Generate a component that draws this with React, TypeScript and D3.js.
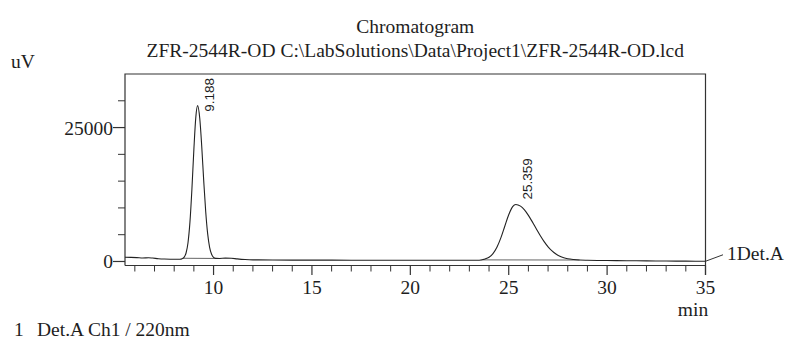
import * as d3 from "d3"
import React, { useRef, useEffect } from 'react';

// chromatogram trace (min, uV)
const times = [5.5, 5.8, 6.1, 6.4, 6.7, 6.9, 7.2, 7.5, 7.8, 8.1, 8.3, 8.4, 8.5, 8.6, 8.7, 8.8, 8.9, 9.0, 9.1, 9.188, 9.3, 9.4, 9.5, 9.6, 9.7, 9.8, 9.9, 10.0, 10.1, 10.3, 10.6, 10.9, 11.2, 11.6, 12, 13, 14, 15, 16, 17, 18, 19, 20, 21, 22, 23, 23.5, 23.8, 24.0, 24.2, 24.4, 24.6, 24.8, 25.0, 25.2, 25.359, 25.6, 25.8, 26.0, 26.2, 26.4, 26.6, 26.8, 27.0, 27.2, 27.4, 27.6, 27.8, 28.0, 28.3, 28.6, 29, 30, 31, 32, 33, 34, 35];
const signal = [780, 760, 720, 650, 700, 640, 520, 450, 420, 410, 430, 530, 780, 1540, 3460, 7340, 13500, 20900, 27000, 29100, 26700, 21470, 15100, 9380, 5190, 2640, 1340, 760, 580, 560, 620, 600, 480, 360, 300, 280, 260, 250, 250, 240, 240, 230, 230, 220, 220, 220, 240, 470, 800, 1470, 2650, 4400, 6570, 8720, 10240, 10650, 10330, 9630, 8610, 7390, 6100, 4840, 3700, 2740, 1970, 1390, 970, 690, 510, 360, 270, 220, 170, 140, 110, 90, 60, 40];

// peaks and their integration baselines
const peakTimes = [9.188, 25.359];
const peakNames = ["9.188", "25.359"];
const baseStart = [[8.45, 600], [23.7, 300]];
const baseEnd = [[10.35, 560], [28.6, 270]];

const xMajor = [10, 15, 20, 25, 30, 35];
const xMinor = d3.range(6, 35).filter(v => v % 5 !== 0);
const yMajor = [0, 25000];
const yMinor = [5000, 10000, 15000, 20000, 30000];

const title = "Chromatogram";
const subtitle = "ZFR-2544R-OD C:\\LabSolutions\\Data\\Project1\\ZFR-2544R-OD.lcd";

const Chromatogram: React.FC = () => {
    const svgRef = useRef<SVGSVGElement | null>(null);

    useEffect(() => {
        const width = 786;
        const height = 340;
        const l = 125, r = 705.5, t = 74, b = 265.5;
        const serif = "'Liberation Serif', 'Times New Roman', serif";
        const ink = "#1e1e1e";

        const svg = d3.select(svgRef.current)
            .attr('width', width)
            .attr('height', height);
        svg.selectAll("*").remove();

        svg.append('rect')
            .attr('width', width)
            .attr('height', height)
            .attr('fill', '#FFFFFF');

        const x = d3.scaleLinear().domain([5.5, 35]).range([l, r]);
        const y = d3.scaleLinear().domain([-750, 35000]).range([b, t]);

        // titles
        svg.append("text").attr("x", (l + r) / 2).attr("y", 33)
            .attr("text-anchor", "middle").attr("font-family", serif).attr("font-size", 19.5)
            .attr("fill", ink).text(title);
        svg.append("text").attr("x", (l + r) / 2).attr("y", 57)
            .attr("text-anchor", "middle").attr("font-family", serif).attr("font-size", 19.5)
            .attr("fill", ink).text(subtitle);
        svg.append("text").attr("x", 11).attr("y", 68)
            .attr("font-family", serif).attr("font-size", 19.5).attr("fill", ink).text("uV");

        // frame
        const axisColor = "#333";
        svg.append("path")
            .attr("d", `M${l},${b}V${t}H${r}V${b + 9.5}M${l},${b}H${r}`)
            .attr("fill", "none").attr("stroke", axisColor).attr("stroke-width", 1.2);

        // x ticks
        svg.selectAll("line.xminor").data(xMinor).enter().append("line")
            .attr("x1", d => x(d)).attr("x2", d => x(d))
            .attr("y1", b).attr("y2", b + 6)
            .attr("stroke", axisColor).attr("stroke-width", 1);
        svg.selectAll("line.xmajor").data(xMajor).enter().append("line")
            .attr("x1", d => x(d)).attr("x2", d => x(d))
            .attr("y1", b).attr("y2", b + 9.5)
            .attr("stroke", axisColor).attr("stroke-width", 1.2);
        svg.selectAll("text.xlab").data(xMajor).enter().append("text")
            .attr("x", d => x(d)).attr("y", 294)
            .attr("text-anchor", "middle").attr("font-family", serif).attr("font-size", 19.5)
            .attr("fill", ink).text(d => d);

        // y ticks
        svg.selectAll("line.yminor").data(yMinor).enter().append("line")
            .attr("x1", l - 7).attr("x2", l)
            .attr("y1", d => y(d)).attr("y2", d => y(d))
            .attr("stroke", axisColor).attr("stroke-width", 1);
        svg.selectAll("line.ymajor").data(yMajor).enter().append("line")
            .attr("x1", l - 12).attr("x2", l)
            .attr("y1", d => y(d)).attr("y2", d => y(d))
            .attr("stroke", axisColor).attr("stroke-width", 1.2);
        svg.selectAll("text.ylab").data(yMajor).enter().append("text")
            .attr("x", l - 12).attr("y", d => y(d) + 7)
            .attr("text-anchor", "end").attr("font-family", serif).attr("font-size", 19.5)
            .attr("fill", ink).text(d => d);

        svg.append("text").attr("x", 693).attr("y", 316)
            .attr("text-anchor", "middle").attr("font-family", serif).attr("font-size", 19.5)
            .attr("fill", ink).text("min");

        // integration baselines
        svg.selectAll("line.base").data(baseStart).enter().append("line")
            .attr("x1", d => x(d[0])).attr("y1", d => y(d[1]))
            .attr("x2", (_, i) => x(baseEnd[i][0])).attr("y2", (_, i) => y(baseEnd[i][1]))
            .attr("stroke", "#555").attr("stroke-width", 0.9);

        // trace
        const pts: [number, number][] = times.map((tm, i) => [tm, signal[i]]);
        const line = d3.line<[number, number]>()
            .x(d => x(d[0])).y(d => y(d[1]))
            .curve(d3.curveMonotoneX);
        svg.append("path").datum(pts)
            .attr("d", line)
            .attr("fill", "none").attr("stroke", "#222").attr("stroke-width", 1.1);

        // detector label
        const last = pts[pts.length - 1];
        svg.append("line")
            .attr("x1", x(last[0])).attr("y1", y(last[1]))
            .attr("x2", x(last[0]) + 17.5).attr("y2", y(last[1]) - 6.5)
            .attr("stroke", "#333").attr("stroke-width", 1);
        svg.append("text").attr("x", 727).attr("y", 260)
            .attr("font-family", serif).attr("font-size", 19.5).attr("fill", ink).text("1Det.A");

        // retention time labels
        peakTimes.forEach((pt, i) => {
            const idx = times.indexOf(pt);
            const px = x(pt) + 16.5;
            const py = y(signal[idx]) - 5;
            const lab = svg.append("text")
                .attr("font-family", "'Liberation Sans', Arial, sans-serif")
                .attr("font-size", 13.5).attr("fill", ink)
                .text(peakNames[i]);
            const len = (lab.node() as SVGTextElement).getComputedTextLength();
            const bottom = py - len < t + 4 ? t + 4 + len : py;
            lab.attr("transform", `translate(${px},${bottom}) rotate(-90)`);
        });

        // footer
        svg.append("text").attr("x", 14).attr("y", 336)
            .attr("font-family", serif).attr("font-size", 19.5).attr("fill", ink).text("1");
        svg.append("text").attr("x", 37).attr("y", 336)
            .attr("font-family", serif).attr("font-size", 19.5).attr("fill", ink).text("Det.A Ch1 / 220nm");
    }, []);

    return <svg ref={svgRef} style={{ position: 'absolute', left: 0, top: 0, display: 'block' }}></svg>;
};

export default function App() {
    return <Chromatogram />;
}
